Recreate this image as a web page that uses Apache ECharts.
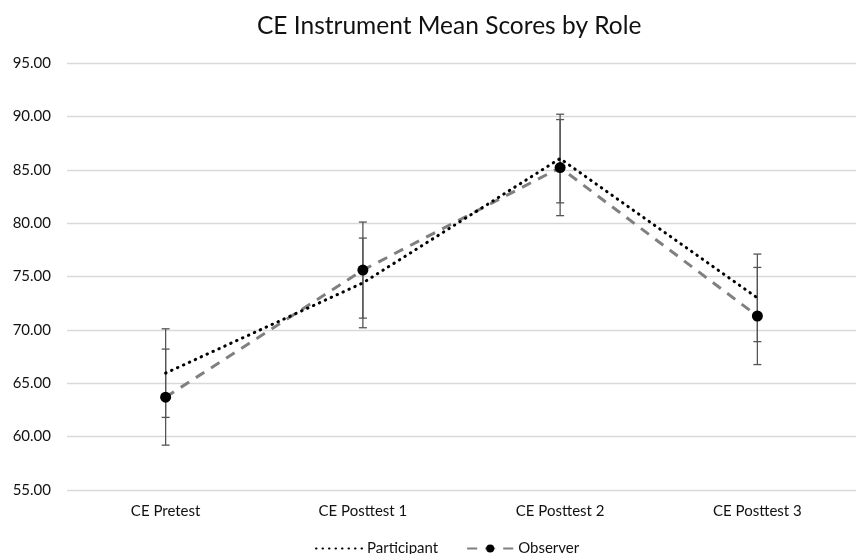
<!DOCTYPE html>
<html>
<head>
<meta charset="utf-8">
<script src="https://cdn.jsdelivr.net/npm/echarts@6/dist/echarts.min.js"></script>
<style>html,body{margin:0;padding:0;background:#fff}#c{width:856px;height:554px}</style>
</head>
<body>
<div id="c"></div>
<script>
const categories = ['CE Pretest', 'CE Posttest 1', 'CE Posttest 2', 'CE Posttest 3'];
const participantMean = [65.95, 74.4, 86.05, 73.0];
const participantErr = [4.15, 4.2, 4.15, 4.1];
const observerMean = [63.7, 75.6, 85.2, 71.3];
const observerErr = [4.5, 4.5, 4.5, 4.55];
const yTicks = { min: 55, max: 95, interval: 5 };

const FONT = 'Lato';
const chart = echarts.init(document.getElementById('c'));

function errData(means, errs) {
  return means.map((m, i) => [i, m - errs[i], m + errs[i]]);
}
function errRender(params, api) {
  const i = api.value(0);
  const lo = api.coord([i, api.value(1)]);
  const hi = api.coord([i, api.value(2)]);
  const hw = 4;
  const style = { stroke: '#555', lineWidth: 1.3, fill: null };
  return {
    type: 'group',
    children: [
      { type: 'line', shape: { x1: lo[0], y1: lo[1], x2: hi[0], y2: hi[1] }, style },
      { type: 'line', shape: { x1: lo[0] - hw, y1: lo[1], x2: lo[0] + hw, y2: lo[1] }, style },
      { type: 'line', shape: { x1: hi[0] - hw, y1: hi[1], x2: hi[0] + hw, y2: hi[1] }, style }
    ]
  };
}

chart.setOption({
  animation: false,
  backgroundColor: '#fff',
  title: {
    text: 'CE Instrument Mean Scores by Role',
    left: 252, top: 9,
    textStyle: { fontFamily: FONT, fontSize: 24.5, fontWeight: 'normal', color: '#111' }
  },
  legend: {
    top: 536, left: 310,
    itemWidth: 46, itemHeight: 10, itemGap: 28,
    textStyle: { fontFamily: FONT, fontSize: 15, color: '#111' },
    data: [
      { name: 'Participant', itemStyle: { opacity: 0 } },
      { name: 'Observer' }
    ]
  },
  grid: { left: 67, right: -11, top: 63, bottom: 64 },
  xAxis: {
    type: 'category', data: categories,
    axisLine: { show: false }, axisTick: { show: false },
    axisLabel: { fontFamily: FONT, fontSize: 15, color: '#111', margin: 14 }
  },
  yAxis: {
    type: 'value', min: yTicks.min, max: yTicks.max, interval: yTicks.interval,
    axisLine: { show: false }, axisTick: { show: false },
    splitLine: { lineStyle: { color: '#d9d9d9', width: 1.3 } },
    axisLabel: { fontFamily: FONT, fontSize: 15, color: '#111', margin: 16,
      formatter: v => v.toFixed(2) }
  },
  series: [
    { type: 'custom', name: 'pErr', renderItem: errRender, data: errData(participantMean, participantErr),
      encode: { x: 0, y: [1, 2] }, z: 1, silent: true },
    { type: 'custom', name: 'oErr', renderItem: errRender, data: errData(observerMean, observerErr),
      encode: { x: 0, y: [1, 2] }, z: 1, silent: true },
    { type: 'line', name: 'Participant', data: participantMean, symbol: 'none', z: 3,
      lineStyle: { color: '#000', width: 3, type: [0.5, 6], cap: 'round' },
      itemStyle: { color: '#000' } },
    { type: 'line', name: 'Observer', data: observerMean, symbol: 'circle', symbolSize: 11, z: 2,
      lineStyle: { color: '#808080', width: 3, type: [10, 8] },
      itemStyle: { color: '#000', borderWidth: 0 } }
  ]
});
</script>
</body>
</html>
